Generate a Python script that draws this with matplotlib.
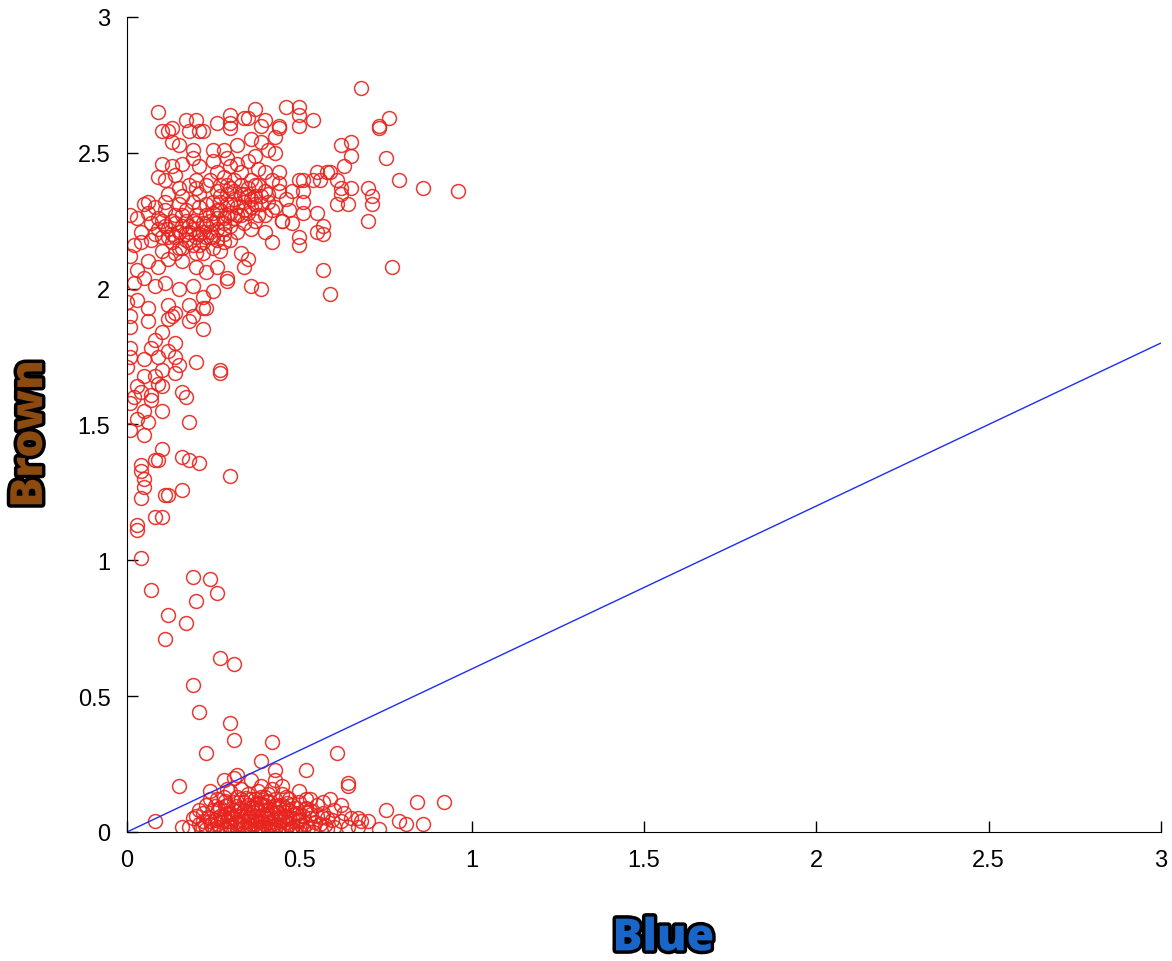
import matplotlib
matplotlib.use('Agg')
import matplotlib.pyplot as plt
import matplotlib.patheffects as pe

# upper cluster (x = Blue, y = Brown)
upper_pts = [
    (0.68, 2.74), (0.09, 2.65), (0.46, 2.67), (0.50, 2.67), (0.50, 2.64), (0.37, 2.66), (0.30, 2.64),
    (0.30, 2.61), (0.26, 2.61), (0.34, 2.63), (0.40, 2.62), (0.39, 2.60), (0.20, 2.62), (0.17, 2.62),
    (0.18, 2.58), (0.13, 2.59), (0.10, 2.58), (0.21, 2.58), (0.54, 2.62), (0.76, 2.63), (0.73, 2.60),
    (0.44, 2.60), (0.50, 2.60), (0.43, 2.56), (0.13, 2.54), (0.12, 2.58), (0.22, 2.58), (0.30, 2.59),
    (0.35, 2.63), (0.36, 2.55), (0.39, 2.54), (0.44, 2.59), (0.19, 2.51), (0.15, 2.53), (0.25, 2.51),
    (0.28, 2.51), (0.32, 2.53), (0.41, 2.51), (0.10, 2.46), (0.13, 2.45), (0.16, 2.46), (0.19, 2.48),
    (0.21, 2.45), (0.25, 2.47), (0.29, 2.48), (0.30, 2.45), (0.35, 2.47), (0.37, 2.49), (0.43, 2.50),
    (0.09, 2.41), (0.11, 2.40), (0.14, 2.42), (0.20, 2.40), (0.23, 2.38), (0.28, 2.41), (0.33, 2.43),
    (0.36, 2.40), (0.40, 2.43), (0.44, 2.39), (0.06, 2.32), (0.11, 2.32), (0.16, 2.34), (0.20, 2.37),
    (0.26, 2.36), (0.30, 2.37), (0.35, 2.34), (0.41, 2.35),
    (0.62, 2.53), (0.65, 2.54), (0.65, 2.49), (0.75, 2.48), (0.79, 2.40), (0.86, 2.37), (0.96, 2.36),
    (0.73, 2.59), (0.63, 2.45), (0.59, 2.43), (0.61, 2.40), (0.62, 2.37), (0.65, 2.37), (0.62, 2.35),
    (0.61, 2.31), (0.64, 2.31), (0.70, 2.37), (0.71, 2.34), (0.71, 2.31), (0.70, 2.25), (0.57, 2.23),
    (0.57, 2.20), (0.55, 2.21), (0.50, 2.19), (0.50, 2.16), (0.48, 2.24), (0.51, 2.28), (0.55, 2.28),
    (0.45, 2.25), (0.51, 2.32), (0.51, 2.36), (0.54, 2.40), (0.51, 2.40), (0.56, 2.40), (0.55, 2.43),
    (0.58, 2.43), (0.50, 2.40), (0.44, 2.43), (0.44, 2.36), (0.42, 2.29), (0.57, 2.07), (0.77, 2.08),
    (0.59, 1.98),
    (0.01, 2.27), (0.01, 2.12), (0.05, 2.31), (0.06, 2.28), (0.09, 2.26), (0.11, 2.29), (0.14, 2.27),
    (0.17, 2.25), (0.20, 2.27), (0.23, 2.23), (0.26, 2.26), (0.28, 2.22), (0.31, 2.26), (0.34, 2.29),
    (0.37, 2.25), (0.40, 2.21), (0.42, 2.17), (0.43, 2.30), (0.45, 2.25), (0.04, 2.17), (0.07, 2.18),
    (0.10, 2.19), (0.13, 2.17), (0.16, 2.15), (0.19, 2.16), (0.22, 2.13), (0.25, 2.15), (0.28, 2.17),
    (0.30, 2.18), (0.33, 2.13), (0.35, 2.11), (0.34, 2.08), (0.36, 2.01), (0.39, 2.00), (0.03, 2.07),
    (0.06, 2.10), (0.09, 2.08), (0.12, 2.11), (0.16, 2.10), (0.20, 2.08), (0.23, 2.06), (0.26, 2.08),
    (0.29, 2.04), (0.02, 2.02), (0.05, 2.04), (0.08, 2.01), (0.11, 2.02), (0.15, 2.00), (0.19, 2.01),
    (0.22, 1.97), (0.00, 1.95), (0.03, 1.96), (0.06, 1.93), (0.12, 1.94), (0.13, 1.90), (0.18, 1.94),
    (0.19, 1.90), (0.23, 1.93), (0.01, 1.90), (0.06, 1.88),
]

upper_core_pts = [
    (0.12, 2.22), (0.14, 2.24), (0.15, 2.21), (0.17, 2.20), (0.18, 2.23), (0.19, 2.22), (0.21, 2.20),
    (0.22, 2.24), (0.23, 2.27), (0.24, 2.21), (0.25, 2.24), (0.26, 2.22), (0.27, 2.29), (0.28, 2.26),
    (0.29, 2.31), (0.30, 2.28), (0.31, 2.33), (0.32, 2.30), (0.33, 2.35), (0.34, 2.32), (0.35, 2.37),
    (0.36, 2.30), (0.37, 2.34), (0.38, 2.38), (0.39, 2.31), (0.40, 2.36), (0.27, 2.34), (0.29, 2.38),
    (0.31, 2.40), (0.25, 2.32), (0.23, 2.31), (0.21, 2.30), (0.19, 2.32), (0.17, 2.29), (0.15, 2.31),
    (0.13, 2.25), (0.11, 2.23), (0.14, 2.19), (0.16, 2.23), (0.18, 2.17), (0.20, 2.19), (0.22, 2.17),
    (0.24, 2.19), (0.26, 2.18), (0.28, 2.20), (0.30, 2.23), (0.32, 2.21), (0.34, 2.24), (0.36, 2.22),
    (0.38, 2.27), (0.27, 2.14), (0.21, 2.35), (0.24, 2.40), (0.26, 2.43), (0.18, 2.38), (0.12, 2.35),
    (0.15, 2.37), (0.09, 2.22), (0.08, 2.30), (0.10, 2.14), (0.07, 2.24), (0.04, 2.21), (0.03, 2.26),
    (0.02, 2.16), (0.40, 2.27), (0.42, 2.40), (0.46, 2.33), (0.47, 2.29), (0.48, 2.36), (0.38, 2.44),
    (0.32, 2.46), (0.27, 2.38),
    (0.13, 2.20), (0.16, 2.27), (0.18, 2.21), (0.20, 2.24), (0.22, 2.21), (0.24, 2.25), (0.26, 2.29),
    (0.28, 2.24), (0.30, 2.31), (0.32, 2.27), (0.34, 2.35), (0.36, 2.33), (0.33, 2.38), (0.29, 2.35),
    (0.25, 2.28), (0.23, 2.19), (0.21, 2.16), (0.19, 2.25), (0.17, 2.18), (0.15, 2.15), (0.12, 2.19),
    (0.27, 2.32), (0.31, 2.36), (0.35, 2.28), (0.37, 2.31), (0.33, 2.27), (0.29, 2.27), (0.25, 2.19),
    (0.20, 2.13), (0.14, 2.13), (0.10, 2.25), (0.08, 2.20), (0.39, 2.34), (0.41, 2.32), (0.37, 2.38),
]

tail_pts = [
    (0.29, 2.03), (0.25, 1.99), (0.22, 1.93), (0.18, 1.88), (0.22, 1.85), (0.14, 1.91), (0.12, 1.89),
    (0.01, 1.86), (0.10, 1.84), (0.08, 1.81), (0.14, 1.80), (0.01, 1.78), (0.07, 1.78), (0.09, 1.75),
    (0.12, 1.77), (0.14, 1.75), (0.01, 1.75), (0.05, 1.74), (0.10, 1.70), (0.15, 1.72), (0.14, 1.69),
    (0.00, 1.71), (0.20, 1.73), (0.27, 1.70), (0.27, 1.69), (0.05, 1.68), (0.08, 1.68), (0.09, 1.65),
    (0.03, 1.64), (0.10, 1.64), (0.04, 1.62), (0.02, 1.60), (0.07, 1.61), (0.16, 1.62), (0.17, 1.60),
    (0.07, 1.59), (0.01, 1.58), (0.10, 1.55), (0.05, 1.55), (0.18, 1.51), (0.06, 1.51), (0.03, 1.52),
    (0.01, 1.48), (0.05, 1.46), (0.10, 1.41), (0.08, 1.37), (0.09, 1.37), (0.16, 1.38), (0.18, 1.37),
    (0.21, 1.36), (0.30, 1.31), (0.04, 1.35), (0.04, 1.33), (0.05, 1.30), (0.05, 1.27), (0.04, 1.23),
    (0.11, 1.24), (0.12, 1.24), (0.16, 1.26), (0.08, 1.16), (0.10, 1.16), (0.03, 1.13), (0.03, 1.11),
    (0.04, 1.01),
]

middle_pts = [
    (0.19, 0.94), (0.24, 0.93), (0.07, 0.89), (0.26, 0.88), (0.20, 0.85), (0.12, 0.80), (0.17, 0.77),
    (0.11, 0.71), (0.27, 0.64), (0.31, 0.62), (0.19, 0.54), (0.21, 0.44), (0.30, 0.40), (0.31, 0.34),
    (0.42, 0.33), (0.23, 0.29), (0.61, 0.29), (0.15, 0.17), (0.08, 0.04),
]

lower_pts = [
    (0.39, 0.26), (0.52, 0.23), (0.64, 0.18), (0.64, 0.17), (0.43, 0.23), (0.32, 0.21), (0.31, 0.20),
    (0.43, 0.19), (0.84, 0.11), (0.92, 0.11), (0.75, 0.08), (0.79, 0.04), (0.81, 0.03), (0.86, 0.03),
    (0.73, 0.01), (0.68, 0.04), (0.70, 0.04), (0.67, 0.05), (0.28, 0.19), (0.29, 0.16), (0.24, 0.15),
    (0.21, 0.08), (0.19, 0.05), (0.16, 0.02), (0.36, 0.19), (0.39, 0.17), (0.45, 0.17), (0.50, 0.15),
    (0.53, 0.12), (0.57, 0.11), (0.59, 0.12), (0.63, 0.07), (0.65, 0.05), (0.67, 0.02),
]

lower_core_pts = [
    (0.21, 0.03), (0.22, 0.07), (0.23, 0.01), (0.23, 0.10), (0.24, 0.04), (0.25, 0.08), (0.25, 0.01),
    (0.26, 0.12), (0.26, 0.05), (0.27, 0.02), (0.27, 0.09), (0.28, 0.06), (0.28, 0.13), (0.29, 0.01),
    (0.29, 0.04), (0.29, 0.10), (0.30, 0.07), (0.30, 0.15), (0.30, 0.02), (0.31, 0.05), (0.31, 0.11),
    (0.31, 0.08), (0.32, 0.01), (0.32, 0.03), (0.32, 0.13), (0.33, 0.06), (0.33, 0.09), (0.33, 0.16),
    (0.34, 0.02), (0.34, 0.04), (0.34, 0.11), (0.35, 0.07), (0.35, 0.01), (0.35, 0.14), (0.36, 0.05),
    (0.36, 0.09), (0.36, 0.03), (0.37, 0.12), (0.37, 0.06), (0.37, 0.01), (0.38, 0.08), (0.38, 0.04),
    (0.38, 0.15), (0.39, 0.02), (0.39, 0.10), (0.39, 0.06), (0.40, 0.13), (0.40, 0.03), (0.40, 0.08),
    (0.41, 0.05), (0.41, 0.01), (0.41, 0.11), (0.42, 0.07), (0.42, 0.16), (0.42, 0.03), (0.43, 0.09),
    (0.43, 0.05), (0.43, 0.12), (0.44, 0.02), (0.44, 0.07), (0.45, 0.04), (0.45, 0.10), (0.45, 0.14),
    (0.46, 0.06), (0.46, 0.01), (0.47, 0.08), (0.47, 0.03), (0.47, 0.12), (0.48, 0.05), (0.48, 0.10),
    (0.49, 0.02), (0.49, 0.07), (0.50, 0.04), (0.50, 0.11), (0.51, 0.06), (0.51, 0.01), (0.52, 0.09),
    (0.52, 0.03), (0.53, 0.05), (0.53, 0.08), (0.54, 0.02), (0.55, 0.06), (0.55, 0.10), (0.56, 0.03),
    (0.57, 0.07), (0.58, 0.01), (0.58, 0.05), (0.60, 0.08), (0.60, 0.02), (0.62, 0.04), (0.62, 0.10),
    (0.64, 0.02), (0.26, 0.03), (0.28, 0.01), (0.30, 0.04), (0.32, 0.06), (0.34, 0.08), (0.36, 0.01),
    (0.38, 0.02), (0.40, 0.05), (0.42, 0.01), (0.44, 0.04), (0.46, 0.09), (0.48, 0.01), (0.50, 0.07),
    (0.52, 0.12), (0.31, 0.02), (0.33, 0.03), (0.35, 0.04), (0.37, 0.03), (0.39, 0.04), (0.41, 0.02),
    (0.43, 0.01), (0.45, 0.02), (0.47, 0.05), (0.49, 0.09), (0.27, 0.06), (0.29, 0.07), (0.35, 0.10),
    (0.37, 0.09), (0.40, 0.10), (0.44, 0.10), (0.46, 0.13), (0.24, 0.12), (0.22, 0.04), (0.20, 0.06),
    (0.18, 0.02), (0.33, 0.12), (0.36, 0.12), (0.39, 0.13), (0.41, 0.14), (0.34, 0.00), (0.38, 0.00),
    (0.42, 0.00), (0.30, 0.00), (0.46, 0.00), (0.50, 0.00), (0.54, 0.00), (0.26, 0.00),
    (0.215, 0.015), (0.235, 0.055), (0.245, 0.025), (0.255, 0.045), (0.265, 0.085), (0.275, 0.035),
    (0.285, 0.095), (0.295, 0.025), (0.305, 0.055), (0.315, 0.035), (0.325, 0.085), (0.335, 0.015),
    (0.345, 0.065), (0.355, 0.025), (0.365, 0.075), (0.375, 0.045), (0.385, 0.105), (0.395, 0.015),
    (0.405, 0.065), (0.415, 0.035), (0.425, 0.095), (0.435, 0.025), (0.445, 0.055), (0.455, 0.075),
    (0.465, 0.035), (0.475, 0.015), (0.485, 0.065), (0.495, 0.045), (0.505, 0.025), (0.515, 0.085),
    (0.525, 0.015), (0.535, 0.065), (0.545, 0.035), (0.565, 0.055), (0.575, 0.025), (0.595, 0.045),
    (0.315, 0.095), (0.345, 0.125), (0.375, 0.105), (0.405, 0.115), (0.435, 0.075), (0.465, 0.105),
    (0.285, 0.115), (0.255, 0.095), (0.225, 0.025), (0.355, 0.055), (0.385, 0.035), (0.415, 0.085),
]

# fitted line
line_x = [0, 3]
line_y = [0, 1.8]

ticks = [0, 0.5, 1, 1.5, 2, 2.5, 3]
tick_labels = ['0', '0.5', '1', '1.5', '2', '2.5', '3']

all_pts = upper_pts + upper_core_pts + tail_pts + middle_pts + lower_pts + lower_core_pts
xs = [p[0] for p in all_pts]
ys = [p[1] for p in all_pts]

fig = plt.figure(figsize=(11.72, 9.62), dpi=100)
ax = fig.add_axes([0.1084, 0.1341, 0.8822, 0.8472])

ax.plot(xs, ys, 'o', markerfacecolor='none', markeredgecolor='#e8241e',
        markersize=10, markeredgewidth=1.1, alpha=0.9)
ax.plot(line_x, line_y, '-', color='#1f2cf5', linewidth=1)

ax.set_xlim(0, 3)
ax.set_ylim(0, 3)
ax.set_xticks(ticks)
ax.set_yticks(ticks)
ax.set_xticklabels(tick_labels, fontsize=17, family='Liberation Sans')
ax.set_yticklabels(tick_labels, fontsize=17, family='Liberation Sans')
ax.tick_params(axis='x', direction='in', length=8, width=1, pad=12)
ax.tick_params(axis='y', direction='in', length=8, width=1, pad=12)
ax.spines['top'].set_visible(False)
ax.spines['right'].set_visible(False)

stroke = [pe.withStroke(linewidth=5, foreground='black')]
fig.text(0.566, 0.023, 'Blue', fontsize=32, fontweight='heavy', family='Open Sans',
         color='#1a66c8', ha='center', va='center', path_effects=stroke)
fig.text(0.026, 0.548, 'Brown', fontsize=32, fontweight='heavy', family='Open Sans',
         color='#8a4a10', ha='center', va='center', rotation=90, path_effects=stroke)

fig.savefig('out.png', dpi=100)
